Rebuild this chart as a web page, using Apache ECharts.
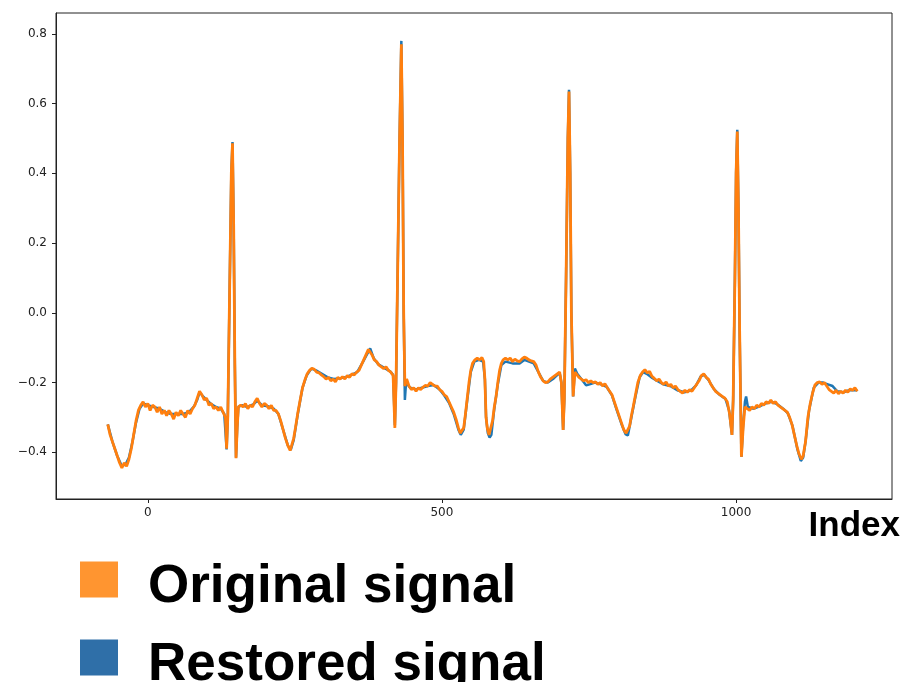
<!DOCTYPE html>
<html>
<head>
<meta charset="utf-8">
<script src="https://cdn.jsdelivr.net/npm/echarts@6/dist/echarts.min.js"></script>
<style>html,body{margin:0;padding:0;background:#fff}#c{width:905px;height:682px}</style>
</head>
<body>
<div id="c"></div>
<script>
var seriesNames = ['Original signal', 'Restored signal'];
var xTicks = [0, 500, 1000];
var yTicks = [-0.4, -0.2, 0.0, 0.2, 0.4, 0.6, 0.8];

var originalSignal = [
[-68,-0.32],[-64,-0.35],[-60,-0.37],[-56,-0.39],[-52,-0.41],[-48,-0.43],[-44,-0.445],[-40,-0.43],[-36,-0.44],[-32,-0.42],
[-28,-0.39],[-24,-0.35],[-20,-0.31],[-16,-0.28],[-12,-0.265],[-8,-0.255],[-4,-0.27],[0,-0.26],[4,-0.28],[8,-0.265],
[12,-0.27],[16,-0.285],[20,-0.27],[24,-0.29],[28,-0.28],[32,-0.295],[36,-0.28],[40,-0.29],[44,-0.305],[48,-0.285],
[52,-0.295],[56,-0.28],[60,-0.29],[64,-0.3],[68,-0.28],[72,-0.29],[76,-0.275],[80,-0.265],[84,-0.245],[88,-0.225],
[92,-0.235],[96,-0.25],[100,-0.245],[104,-0.265],[108,-0.26],[112,-0.275],[116,-0.27],[120,-0.28],[124,-0.27],[128,-0.285],
[132,-0.3],[134,-0.39],[136,-0.30],[139,0.05],[142,0.40],[144,0.486],[146,0.25],[148,-0.15],[150,-0.417],[152,-0.33],
[154,-0.27],[158,-0.265],[162,-0.27],[166,-0.26],[170,-0.275],[174,-0.265],[178,-0.27],[182,-0.255],[186,-0.245],[190,-0.26],
[194,-0.27],[198,-0.26],[202,-0.265],[206,-0.275],[210,-0.265],[214,-0.28],[218,-0.28],[222,-0.29],[226,-0.31],[230,-0.335],
[234,-0.36],[238,-0.38],[242,-0.395],[245,-0.39],[248,-0.36],[251,-0.33],[255,-0.287],[259,-0.25],[263,-0.215],[267,-0.193],
[271,-0.175],[275,-0.165],[279,-0.159],[283,-0.162],[287,-0.17],[291,-0.172],[295,-0.178],[299,-0.183],[303,-0.19],[307,-0.185],
[311,-0.195],[315,-0.19],[319,-0.198],[323,-0.185],[327,-0.19],[331,-0.183],[335,-0.19],[339,-0.18],[343,-0.185],[347,-0.175],
[351,-0.178],[355,-0.17],[359,-0.165],[363,-0.15],[367,-0.135],[371,-0.12],[375,-0.105],[378,-0.101],[381,-0.12],[385,-0.135],
[389,-0.14],[393,-0.15],[397,-0.155],[401,-0.16],[405,-0.155],[409,-0.165],[413,-0.17],[417,-0.18],[420,-0.33],[422,-0.2],
[425,0.15],[428,0.5],[431,0.77],[433,0.5],[435,0.0],[437,-0.21],[440,-0.19],[444,-0.21],[448,-0.22],[452,-0.215],
[456,-0.225],[460,-0.215],[464,-0.22],[468,-0.213],[472,-0.208],[476,-0.21],[480,-0.2],[484,-0.205],[488,-0.21],[492,-0.21],
[496,-0.22],[500,-0.225],[504,-0.235],[508,-0.24],[512,-0.255],[516,-0.27],[520,-0.285],[524,-0.305],[528,-0.33],[531,-0.345],
[534,-0.34],[537,-0.33],[540,-0.29],[543,-0.245],[546,-0.2],[549,-0.165],[552,-0.145],[556,-0.135],[560,-0.13],[564,-0.135],
[568,-0.128],[571,-0.14],[573,-0.19],[575,-0.3],[577,-0.33],[580,-0.35],[583,-0.345],[586,-0.31],[589,-0.27],[592,-0.24],
[595,-0.2],[598,-0.165],[601,-0.145],[604,-0.135],[608,-0.13],[612,-0.135],[616,-0.13],[620,-0.14],[624,-0.133],[628,-0.138],
[632,-0.14],[636,-0.132],[640,-0.127],[644,-0.13],[648,-0.135],[652,-0.138],[656,-0.14],[660,-0.15],[664,-0.17],[668,-0.185],
[672,-0.195],[676,-0.2],[680,-0.198],[684,-0.19],[688,-0.185],[692,-0.18],[696,-0.175],[700,-0.17],[703,-0.2],[706,-0.336],
[708,-0.25],[711,0.1],[714,0.5],[716,0.635],[718,0.4],[720,0.0],[723,-0.24],[726,-0.17],[729,-0.175],[733,-0.185],
[737,-0.19],[741,-0.195],[745,-0.192],[749,-0.2],[753,-0.195],[757,-0.2],[761,-0.198],[765,-0.205],[769,-0.2],[773,-0.21],
[777,-0.203],[781,-0.215],[785,-0.225],[789,-0.235],[793,-0.255],[797,-0.275],[801,-0.295],[805,-0.315],[809,-0.335],[813,-0.345],
[816,-0.348],[819,-0.325],[822,-0.295],[825,-0.27],[829,-0.235],[833,-0.2],[837,-0.18],[841,-0.17],[845,-0.163],[849,-0.172],
[853,-0.168],[857,-0.182],[861,-0.188],[865,-0.195],[869,-0.19],[873,-0.2],[877,-0.205],[881,-0.198],[885,-0.21],[889,-0.205],
[893,-0.215],[897,-0.21],[901,-0.22],[905,-0.225],[909,-0.23],[913,-0.222],[917,-0.228],[921,-0.22],[925,-0.225],[929,-0.215],
[933,-0.205],[937,-0.195],[941,-0.18],[945,-0.175],[949,-0.185],[953,-0.19],[957,-0.205],[961,-0.215],[965,-0.225],[969,-0.23],
[973,-0.235],[977,-0.24],[981,-0.245],[985,-0.255],[989,-0.29],[993,-0.35],[995,-0.25],[998,0.1],[1000,0.4],[1002,0.52],
[1004,0.3],[1006,-0.05],[1009,-0.413],[1012,-0.33],[1015,-0.27],[1019,-0.275],[1023,-0.28],[1027,-0.27],[1031,-0.275],[1035,-0.265],
[1039,-0.27],[1043,-0.26],[1047,-0.265],[1051,-0.255],[1055,-0.26],[1059,-0.25],[1063,-0.26],[1067,-0.255],[1071,-0.265],[1075,-0.27],
[1079,-0.275],[1083,-0.28],[1087,-0.285],[1091,-0.3],[1095,-0.32],[1099,-0.35],[1103,-0.38],[1107,-0.405],[1111,-0.42],[1114,-0.41],
[1118,-0.37],[1122,-0.3],[1126,-0.26],[1130,-0.23],[1134,-0.207],[1138,-0.2],[1142,-0.198],[1146,-0.205],[1150,-0.2],[1154,-0.21],
[1158,-0.22],[1162,-0.225],[1166,-0.23],[1170,-0.222],[1174,-0.232],[1178,-0.225],[1182,-0.23],[1186,-0.222],[1190,-0.228],[1194,-0.218],
[1198,-0.222],[1202,-0.215],[1206,-0.225]
];

var restoredSignal = [
[-68,-0.32],[-60,-0.37],[-52,-0.41],[-44,-0.44],[-38,-0.435],[-32,-0.415],[-26,-0.37],[-20,-0.315],[-14,-0.275],[-8,-0.26],
[0,-0.265],[10,-0.27],[20,-0.275],[30,-0.285],[40,-0.29],[50,-0.29],[60,-0.29],[70,-0.285],[78,-0.27],[84,-0.25],
[88,-0.228],[94,-0.24],[100,-0.25],[108,-0.262],[116,-0.27],[124,-0.275],[130,-0.29],[134,-0.392],[136,-0.3],[139,0.05],
[142,0.40],[144,0.49],[146,0.25],[148,-0.15],[150,-0.415],[152,-0.33],[154,-0.27],[160,-0.265],[170,-0.27],[180,-0.262],
[186,-0.252],[194,-0.265],[204,-0.268],[214,-0.275],[222,-0.29],[230,-0.335],[238,-0.38],[243,-0.393],[248,-0.365],[255,-0.29],
[263,-0.215],[270,-0.18],[278,-0.16],[286,-0.165],[296,-0.175],[306,-0.185],[316,-0.19],[326,-0.188],[336,-0.185],[346,-0.178],
[356,-0.17],[366,-0.14],[378,-0.102],[384,-0.13],[392,-0.148],[402,-0.158],[412,-0.168],[417,-0.178],[420,-0.322],[422,-0.2],
[425,0.15],[428,0.5],[431,0.78],[433,0.5],[435,0.0],[437,-0.25],[439,-0.2],[446,-0.215],[456,-0.22],[466,-0.215],
[476,-0.21],[486,-0.207],[496,-0.22],[504,-0.237],[512,-0.258],[520,-0.29],[528,-0.335],[532,-0.35],[537,-0.335],[543,-0.25],
[549,-0.17],[555,-0.14],[563,-0.135],[570,-0.14],[573,-0.19],[575,-0.3],[578,-0.345],[581,-0.358],[584,-0.35],[589,-0.275],
[595,-0.205],[601,-0.15],[608,-0.14],[620,-0.145],[632,-0.145],[640,-0.135],[648,-0.14],[656,-0.145],[664,-0.17],[672,-0.195],
[680,-0.2],[690,-0.188],[700,-0.172],[703,-0.2],[706,-0.336],[708,-0.25],[711,0.1],[714,0.5],[716,0.64],[718,0.4],
[720,0.0],[723,-0.24],[726,-0.16],[730,-0.175],[737,-0.19],[745,-0.208],[751,-0.205],[760,-0.2],[770,-0.205],[780,-0.212],
[789,-0.237],[797,-0.278],[805,-0.318],[812,-0.348],[816,-0.352],[822,-0.3],[829,-0.24],[836,-0.185],[842,-0.17],[848,-0.175],
[856,-0.185],[866,-0.195],[876,-0.205],[888,-0.21],[900,-0.222],[912,-0.228],[924,-0.222],[932,-0.208],[940,-0.182],[946,-0.178],
[954,-0.195],[962,-0.218],[972,-0.235],[982,-0.247],[988,-0.28],[993,-0.35],[995,-0.25],[998,0.1],[1000,0.4],[1002,0.525],
[1004,0.3],[1006,-0.05],[1009,-0.413],[1012,-0.32],[1015,-0.255],[1017,-0.24],[1020,-0.27],[1030,-0.275],[1040,-0.268],[1050,-0.26],
[1060,-0.255],[1070,-0.262],[1080,-0.275],[1088,-0.288],[1096,-0.325],[1104,-0.39],[1110,-0.425],[1114,-0.415],[1118,-0.37],[1124,-0.28],
[1132,-0.215],[1140,-0.2],[1148,-0.2],[1156,-0.205],[1164,-0.21],[1172,-0.225],[1182,-0.228],[1192,-0.222],[1206,-0.222]
];

var chart = echarts.init(document.getElementById('c'), null, {renderer: 'canvas'});
function fmtY(v) {
  var s = Math.abs(v).toFixed(1);
  return (v < -1e-9 ? '\u2212' : '') + s;
}
var legendText = {
  fontSize: 53, fontWeight: 'bold', color: '#000', fontFamily: 'Liberation Sans, Arial, sans-serif',
  padding: [0, 0, 0, 25],
  rich: {t: {fontSize: 53, fontWeight: 'bold', color: '#000', fontFamily: 'Liberation Sans, Arial, sans-serif', lineHeight: 53, padding: [16, 0, 0, 0]}}
};
function legendFmt(n) { return '{t|' + n + '}'; }
chart.setOption({
  animation: false,
  backgroundColor: '#fff',
  grid: {left: 56, top: 13, right: 13, bottom: 183, show: true, borderColor: '#222', borderWidth: 1, backgroundColor: 'transparent'},
  legend: [
    {orient: 'vertical', left: 80, top: 545, padding: 0, itemWidth: 38, itemHeight: 36, icon: 'rect', selectedMode: false,
     data: [seriesNames[0]], textStyle: legendText, formatter: legendFmt},
    {orient: 'vertical', left: 80, top: 623, padding: 0, itemWidth: 38, itemHeight: 36, icon: 'rect', selectedMode: false,
     data: [seriesNames[1]], textStyle: legendText, formatter: legendFmt}
  ],
  xAxis: {
    type: 'value', min: -156, max: 1265,
    name: 'Index', nameLocation: 'end', nameGap: 8,
    nameTextStyle: {fontSize: 35, fontWeight: 'bold', color: '#000', fontFamily: 'Liberation Sans, Arial, sans-serif', align: 'right', verticalAlign: 'top', padding: [10, 0, 0, 0]},
    axisLine: {show: true, onZero: false, lineStyle: {color: '#222', width: 1}},
    axisTick: {show: true, length: 4, lineStyle: {color: '#222'}, customValues: xTicks},
    axisLabel: {margin: 8, fontSize: 12, color: '#222', fontFamily: 'DejaVu Sans, sans-serif', customValues: xTicks, formatter: function (v) { return String(v); }},
    splitLine: {show: false}
  },
  yAxis: {
    type: 'value', min: -0.534, max: 0.86,
    axisLine: {show: true, onZero: false, lineStyle: {color: '#222', width: 1}},
    axisTick: {show: true, length: 4, lineStyle: {color: '#222'}, customValues: yTicks},
    axisLabel: {margin: 9, fontSize: 12, color: '#222', fontFamily: 'DejaVu Sans, sans-serif', customValues: yTicks, formatter: fmtY},
    splitLine: {show: false}
  },
  series: [
    {name: seriesNames[1], type: 'line', data: restoredSignal, showSymbol: false, symbol: 'none',
     lineStyle: {color: '#1f77b4', width: 2.5}, itemStyle: {color: '#2f6fa8'}, z: 2},
    {name: seriesNames[0], type: 'line', data: originalSignal, showSymbol: false, symbol: 'none',
     lineStyle: {color: '#ff7f0e', width: 2.8}, itemStyle: {color: '#ff9530'}, z: 3}
  ]
});
</script>
</body>
</html>
